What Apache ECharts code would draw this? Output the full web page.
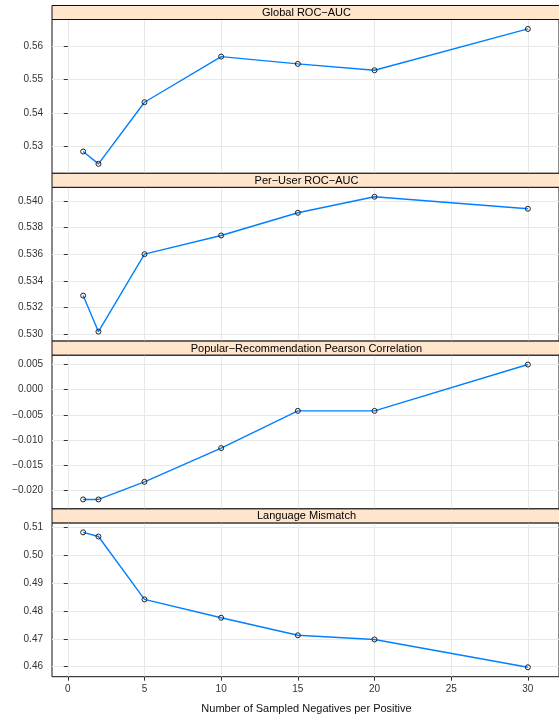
<!DOCTYPE html>
<html>
<head>
<meta charset="utf-8">
<script src="https://cdn.jsdelivr.net/npm/echarts@6/dist/echarts.min.js"></script>
<style>
  html, body { margin: 0; padding: 0; background: #fff; }
  #chart { width: 559px; height: 715px; }
</style>
</head>
<body>
<div id="chart"></div>
<script>
// Sampled negatives per positive (shared x values)
const xValues = [1, 2, 5, 10, 15, 20, 30];
const xTicks = [0, 5, 10, 15, 20, 25, 30];

// Metric series, one per panel
const globalRocAuc    = [0.5284, 0.5247, 0.5432, 0.5569, 0.5547, 0.5528, 0.5652];
const perUserRocAuc   = [0.5329, 0.5302, 0.5360, 0.5374, 0.5391, 0.5403, 0.5394];
const popularPearson  = [-0.0218, -0.0218, -0.0183, -0.0116, -0.0042, -0.0042, 0.0050];
const languageMismatch = [0.5083, 0.5068, 0.4842, 0.4776, 0.4713, 0.4698, 0.4598];

// Panel titles and tick values
const panelTitles = [
  'Global ROC\u2212AUC',
  'Per\u2212User ROC\u2212AUC',
  'Popular\u2212Recommendation Pearson Correlation',
  'Language Mismatch'
];
const yTicksGlobal   = [0.53, 0.54, 0.55, 0.56];
const yTicksPerUser  = [0.530, 0.532, 0.534, 0.536, 0.538, 0.540];
const yTicksPearson  = [-0.020, -0.015, -0.010, -0.005, 0.000, 0.005];
const yTicksLanguage = [0.46, 0.47, 0.48, 0.49, 0.50, 0.51];
const xTitle = 'Number of Sampled Negatives per Positive';

const panels = [
  { values: globalRocAuc,     ticks: yTicksGlobal,   digits: 2 },
  { values: perUserRocAuc,    ticks: yTicksPerUser,  digits: 3 },
  { values: popularPearson,   ticks: yTicksPearson,  digits: 3 },
  { values: languageMismatch, ticks: yTicksLanguage, digits: 2 }
];

// Layout of the stacked panels (pixels)
const FONT = "'Liberation Sans', Arial, Helvetica, sans-serif";
const LEFT = 52, RIGHT_EDGE = 561;
const PANEL_TOP0 = 5.5, PANEL_STEP = 167.8, STRIP_H = 14;
const PAD = 0.07; // lattice-style range padding

function padded(arr) {
  const lo = Math.min(...arr), hi = Math.max(...arr);
  const span = hi - lo;
  return [lo - PAD * span, hi + PAD * span];
}
const fmt = (d) => (v) => Number(v).toFixed(d).replace('-', '\u2212');

const xRange = padded(xValues);

const grids = [], xAxes = [], yAxes = [], series = [], graphics = [];
panels.forEach((p, i) => {
  const top = PANEL_TOP0 + i * PANEL_STEP;
  const isLast = i === panels.length - 1;
  const yr = padded(p.values);
  grids.push({
    left: LEFT, top: top + STRIP_H, width: RIGHT_EDGE - LEFT,
    height: PANEL_STEP - STRIP_H,
    show: true, borderColor: '#111', borderWidth: 1, backgroundColor: 'transparent'
  });
  xAxes.push({
    type: 'value', gridIndex: i, min: xRange[0], max: xRange[1],
    axisLine: { show: false },
    axisTick: { show: isLast, customValues: xTicks, length: 4, lineStyle: { color: '#333' } },
    axisLabel: { show: isLast, customValues: xTicks, margin: 8, fontSize: 10,
                 fontFamily: FONT, color: '#333' },
    splitLine: { show: true, lineStyle: { color: '#e8e8e8', width: 1 } }
  });
  yAxes.push({
    type: 'value', gridIndex: i, min: yr[0], max: yr[1],
    axisLine: { show: false },
    axisTick: { show: true, customValues: p.ticks, length: 4, lineStyle: { color: '#333' } },
    axisLabel: { customValues: p.ticks, formatter: fmt(p.digits), margin: 9,
                 fontSize: 10, fontFamily: FONT, color: '#333' },
    splitLine: { show: true, lineStyle: { color: '#e8e8e8', width: 1 } }
  });
  series.push({
    type: 'line', xAxisIndex: i, yAxisIndex: i,
    data: xValues.map((x, k) => [x, p.values[k]]),
    lineStyle: { color: '#0080ff', width: 1.4 },
    symbol: 'circle', symbolSize: 5,
    itemStyle: { color: 'rgba(0,0,0,0)', borderColor: '#222', borderWidth: 1 },
    clip: false, animation: false, z: 3
  });
  // strip header above each panel
  graphics.push({
    type: 'rect', z: 10,
    shape: { x: LEFT, y: top, width: RIGHT_EDGE - LEFT, height: STRIP_H },
    style: { fill: '#ffe5cc', stroke: '#111', lineWidth: 1 }
  });
  graphics.push({
    type: 'text', z: 11,
    x: (LEFT + RIGHT_EDGE) / 2, y: top + STRIP_H / 2 + 0.5,
    style: { text: panelTitles[i], fill: '#000', font: '11px ' + FONT,
             align: 'center', verticalAlign: 'middle' }
  });
});

graphics.push({
  type: 'text', z: 11,
  x: (LEFT + RIGHT_EDGE) / 2, y: 709,
  style: { text: xTitle, fill: '#111', font: '11px ' + FONT,
           align: 'center', verticalAlign: 'middle' }
});

const chart = echarts.init(document.getElementById('chart'), null, { renderer: 'canvas' });
chart.setOption({
  animation: false,
  backgroundColor: '#fff',
  grid: grids,
  xAxis: xAxes,
  yAxis: yAxes,
  series: series,
  graphic: graphics
});
</script>
</body>
</html>
